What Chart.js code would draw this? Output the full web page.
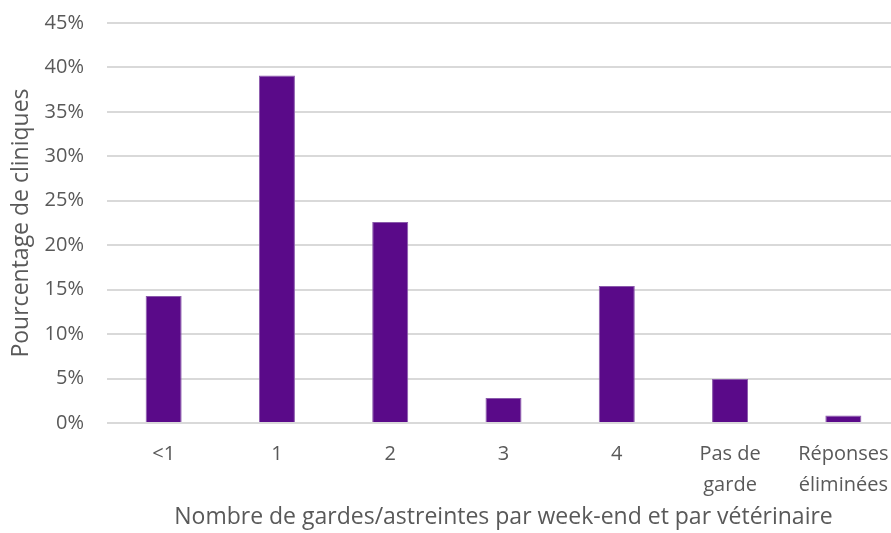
<!DOCTYPE html>
<html>
<head>
<meta charset="utf-8">
<script src="https://cdn.jsdelivr.net/npm/chart.js@4/dist/chart.umd.min.js"></script>
<style>
  html, body { margin: 0; padding: 0; background: #ffffff; overflow: hidden; }
  #wrap { width: 902px; height: 533px; position: relative; }
</style>
</head>
<body>
<div id="wrap"><canvas id="chart"></canvas></div>
<script>
// Weekend on-call duties per veterinarian: share of clinics (%)
const categories = ['<1', '1', '2', '3', '4', ['Pas de', 'garde'], ['Réponses', 'éliminées']];
const shares = [14.3, 39.1, 22.6, 2.8, 15.4, 4.95, 0.85];
const yTicks = [0, 5, 10, 15, 20, 25, 30, 35, 40, 45];

const textColor = '#595959';
const fontFamily = "'Open Sans', 'Noto Sans', sans-serif";

new Chart(document.getElementById('chart'), {
  type: 'bar',
  data: {
    labels: categories,
    datasets: [{
      data: shares,
      backgroundColor: '#5A0A89',
      borderColor: '#8A5AAB',
      borderWidth: 1,
      categoryPercentage: 0.318,
      barPercentage: 1
    }]
  },
  options: {
    responsive: true,
    maintainAspectRatio: false,
    animation: false,
    layout: { padding: { top: 23, bottom: 4, left: 4, right: 2 } },
    plugins: { legend: { display: false }, tooltip: { enabled: false } },
    scales: {
      x: {
        grid: { display: false },
        border: { display: false },
        ticks: { color: textColor, font: { family: fontFamily, size: 20, lineHeight: 1.55 }, padding: 8, maxRotation: 0, autoSkip: false },
        title: { display: true, text: 'Nombre de gardes/astreintes par week-end et par vétérinaire', color: textColor, font: { family: fontFamily, size: 23 }, padding: { top: 2, bottom: -2 } },
        afterFit: (s) => { s.height = 106; s.paddingLeft = 0; s.paddingRight = 0; }
      },
      y: {
        min: 0,
        max: 45,
        afterBuildTicks: (axis) => { axis.ticks = yTicks.map(v => ({ value: v })); },
        grid: { color: '#d9d9d9', lineWidth: 2, drawTicks: false },
        border: { display: false },
        ticks: { color: textColor, font: { family: fontFamily, size: 20 }, padding: 23, callback: v => v + '%' },
        title: { display: true, text: 'Pourcentage de cliniques', color: textColor, font: { family: fontFamily, size: 23 }, padding: { top: 4, bottom: 6 } },
        afterFit: (s) => { s.width = 103; s.paddingTop = 0; s.paddingBottom = 0; }
      }
    }
  }
});
</script>
</body>
</html>
